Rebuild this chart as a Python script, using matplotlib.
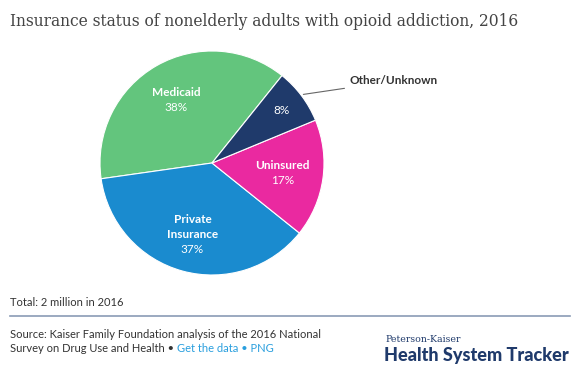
import matplotlib
matplotlib.use("Agg")

import matplotlib.pyplot as plt
import numpy as np

W, H = 580, 387

categories = ["Medicaid", "Private\nInsurance", "Uninsured", "Other/Unknown"]
shares = [38, 37, 17, 8]
pct_labels = ["38%", "37%", "17%", "8%"]
colors = ["#63c57d", "#1a8bcf", "#ea29a0", "#1f3a6b"]
label_radius = [0.65, 0.66, 0.635, 0.78]

title = "Insurance status of nonelderly adults with opioid addiction, 2016"
total_note = "Total: 2 million in 2016"


def px(x, y):
    return x / W, 1 - y / H


def fit_width(fig, t, target):
    # shrink/grow a text so it spans the same width as in the reference
    fig.canvas.draw()
    w = t.get_window_extent().width
    t.set_fontsize(t.get_fontsize() * target / w)


def main():
    fig = plt.figure(figsize=(W / 100, H / 100), dpi=100)
    fig.patch.set_facecolor("white")

    cx, cy, r = 212, 163, 112
    ax = fig.add_axes([(cx - r) / W, 1 - (cy + r) / H, 2 * r / W, 2 * r / H])
    wedges, _ = ax.pie(
        shares,
        colors=colors,
        startangle=51.3,
        counterclock=True,
        wedgeprops=dict(edgecolor="white", linewidth=0.8),
    )
    ax.set_xlim(-1, 1)
    ax.set_ylim(-1, 1)
    ax.set_aspect("equal")
    ax.axis("off")

    step = 0.134
    for i, w in enumerate(wedges):
        mid = np.deg2rad((w.theta1 + w.theta2) / 2)
        x = label_radius[i] * np.cos(mid)
        y = label_radius[i] * np.sin(mid)
        if i == 3:
            ax.text(x, y, pct_labels[i], ha="center", va="center",
                    color="white", fontsize=8.5, family="Lato")
            continue
        n_lines = categories[i].count("\n") + 1
        top = y + step * n_lines / 2
        for j, line in enumerate(categories[i].split("\n")):
            ax.text(x, top - step * j, line, ha="center", va="center",
                    color="white", fontsize=8.5, family="Lato", fontweight="bold")
        ax.text(x, top - step * n_lines, pct_labels[i], ha="center", va="center",
                color="white", fontsize=8.5, family="Lato")

    # leader line for the small slice
    other = wedges[3]
    mid = np.deg2rad((other.theta1 + other.theta2) / 2)
    x0, y0 = 1.02 * np.cos(mid), 1.02 * np.sin(mid)
    ax.annotate(
        "Other/Unknown",
        xy=(x0, y0), xytext=((350 - cx) / r, (cy - 81) / r),
        ha="left", va="center", fontsize=8.5, family="Lato",
        fontweight="bold", color="#333333",
        arrowprops=dict(arrowstyle="-", color="#666666", lw=0.8,
                        shrinkA=2, shrinkB=0),
        annotation_clip=False,
    )

    tt = fig.text(*px(10, 21), title, ha="left", va="center", fontsize=12,
                  family="DejaVu Serif", color="#444444")
    fit_width(fig, tt, 511)

    fig.text(*px(10, 303), total_note, ha="left", va="center", fontsize=8,
             family="Lato", color="#333333")
    fig.add_artist(plt.Line2D([10 / W, 570 / W], [1 - 316 / H, 1 - 316 / H],
                              color="#8a9bb5", lw=1.2, transform=fig.transFigure))

    fig.text(*px(10, 335), "Source: Kaiser Family Foundation analysis of the 2016 National",
             ha="left", va="center", fontsize=8, family="Lato", color="#333333")
    t = fig.text(*px(10, 349), "Survey on Drug Use and Health \u2022 ",
                 ha="left", va="center", fontsize=8, family="Lato", color="#333333")
    fig.canvas.draw()
    bb = t.get_window_extent()
    fig.text(bb.x1 / W, 1 - 349 / H, "Get the data \u2022 PNG", ha="left", va="center",
             fontsize=8, family="Lato", color="#2a9fde")

    pk = fig.text(*px(385, 339), "Peterson-Kaiser", ha="left", va="center",
                  fontsize=7.5, family="DejaVu Serif", color="#1f3a6b")
    fit_width(fig, pk, 75)
    hs = fig.text(*px(384, 356), "Health System Tracker", ha="left", va="center",
                  fontsize=12, family="Lato", fontweight="black", color="#1f3a6b")
    fit_width(fig, hs, 186)

    fig.savefig("out.png", dpi=100, facecolor="white")
    plt.close(fig)


if __name__ == "__main__":
    main()
